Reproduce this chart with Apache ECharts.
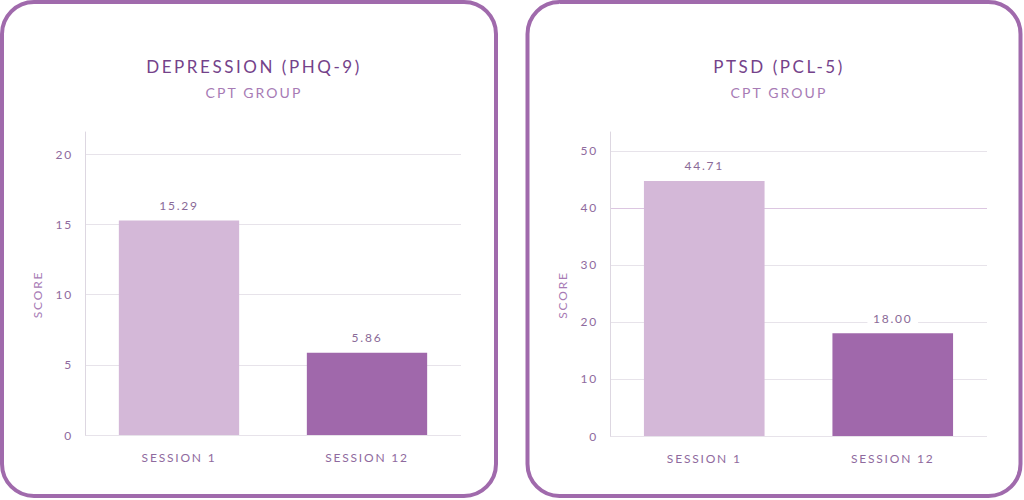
<!DOCTYPE html>
<html>
<head>
<meta charset="utf-8">
<script src="https://cdn.jsdelivr.net/npm/echarts@6/dist/echarts.min.js"></script>
<style>
  html, body { margin: 0; padding: 0; background: #fff; }
  #chart { width: 1024px; height: 500px; }
  #chart text { letter-spacing: 0.15em; }
</style>
</head>
<body>
<div id="chart"></div>
<script>
var sessions = ['SESSION 1', 'SESSION 12'];
var phq9 = [15.29, 5.86];
var pcl5 = [44.71, 18.00];
var titles = ['DEPRESSION (PHQ-9)', 'PTSD (PCL-5)'];
var subtitle = 'CPT GROUP';
var barColors = ['#d4b8d8', '#a068ab'];

var font = 'Lato, "Open Sans", sans-serif';
var gridColor = '#e7e3ea';

function yAxisFor(idx, max, interval, splitColors) {
    return {
        gridIndex: idx,
        type: 'value',
        min: 0,
        max: max,
        interval: interval,
        name: 'SCORE',
        nameLocation: 'middle',
        nameRotate: 90,
        nameGap: 42,
        nameTextStyle: { color: '#a77bb5', fontFamily: font, fontSize: 12, padding: [0, 22, 0, 0] },
        axisLine: { show: true, lineStyle: { color: '#ddd7e1', width: 1 } },
        axisTick: { show: false },
        axisLabel: { color: '#8f6a9e', fontFamily: font, fontSize: 12, margin: 12, showMaxLabel: false },
        splitLine: { show: true, showMaxLine: false, lineStyle: { color: splitColors, width: 1 } }
    };
}

function xAxisFor(idx) {
    return {
        gridIndex: idx,
        type: 'category',
        data: sessions,
        axisLine: { show: false },
        axisTick: { show: false },
        axisLabel: { color: '#8f6a9e', fontFamily: font, fontSize: 12, margin: 16 }
    };
}

function seriesFor(idx, values) {
    return {
        type: 'bar',
        xAxisIndex: idx,
        yAxisIndex: idx,
        barWidth: '64%',
        data: values.map(function (v, i) {
            return { value: v, itemStyle: { color: barColors[i] } };
        }),
        label: {
            show: true,
            position: 'top',
            distance: 6,
            color: '#8a6a98',
            fontFamily: font,
            fontSize: 12,
            backgroundColor: '#fff',
            padding: [3, 10],
            formatter: function (p) { return p.value.toFixed(2); }
        }
    };
}

function titleFor(i, cx) {
    return {
        text: titles[i],
        subtext: subtitle,
        left: cx,
        top: 53,
        textAlign: 'center',
        itemGap: 10,
        textStyle: { color: '#74428a', fontFamily: font, fontSize: 17, fontWeight: 'normal' },
        subtextStyle: { color: '#a77bb5', fontFamily: font, fontSize: 14, fontWeight: 'normal' }
    };
}

var chart = echarts.init(document.getElementById('chart'), null, { renderer: 'svg' });
chart.setOption({
    animation: false,
    title: [titleFor(0, 249), titleFor(1, 774)],
    graphic: [
        { type: 'rect', shape: { x: 2, y: 2, width: 494, height: 494, r: 32 },
          style: { fill: 'none', stroke: '#a06aac', lineWidth: 4 } },
        { type: 'rect', shape: { x: 527.5, y: 2, width: 493, height: 494, r: 32 },
          style: { fill: 'none', stroke: '#a06aac', lineWidth: 4 } }
    ],
    grid: [
        { left: 85, right: 563, top: 132, bottom: 65 },
        { left: 610, right: 37, top: 132, bottom: 64 }
    ],
    xAxis: [xAxisFor(0), xAxisFor(1)],
    yAxis: [
        yAxisFor(0, 21.6, 5, [gridColor]),
        yAxisFor(1, 53.3, 10, [gridColor, gridColor, gridColor, gridColor, '#dcc6e1', gridColor])
    ],
    series: [seriesFor(0, phq9), seriesFor(1, pcl5)]
});
</script>
</body>
</html>
